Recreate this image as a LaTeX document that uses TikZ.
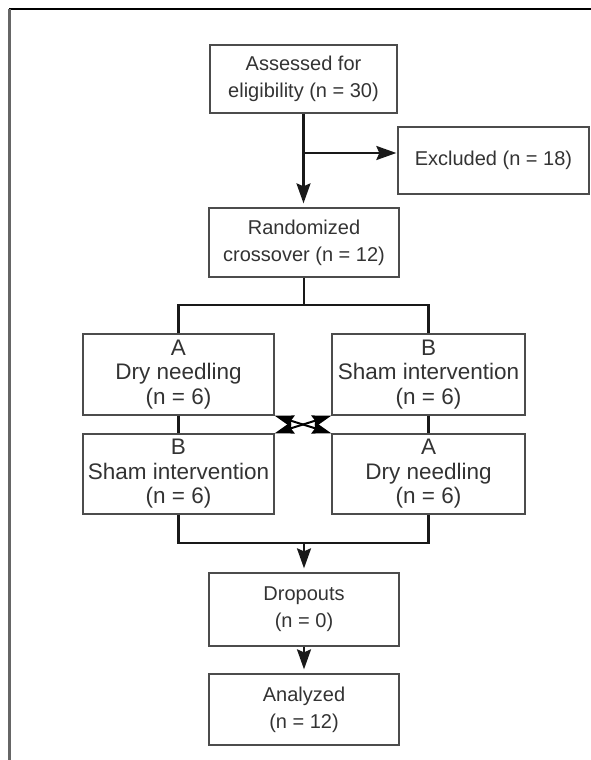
\documentclass[tikz,border=0pt]{standalone}
\usepackage{fontspec}
\setmainfont{Liberation Sans}
\usetikzlibrary{arrows.meta}
\begin{document}
\begin{tikzpicture}[x=1pt,y=-1pt,
  box/.style={draw=black!70,line width=1.3pt,rectangle,align=center,inner sep=0pt,
    text=black!80,font=\fontsize{20}{27}\selectfont},
  xbox/.style={box,font=\fontsize{22.5}{24.5}\selectfont},
  conn/.style={line width=2.4pt,black!90},
  arr/.style={conn,-{Stealth[length=20pt,width=14pt,inset=3pt]}},
  xarr/.style={line width=2pt,black,{Stealth[length=19pt,width=12pt,inset=2pt]}-{Stealth[length=19pt,width=12pt,inset=2pt]}}
]
\useasboundingbox (0,0) rectangle (591,760);
% frame
\draw[line width=2pt,black] (9,9.5) -- (591,9.5);
\draw[line width=2.6pt,black!60] (9.5,9) -- (9.5,760);

\node[box,minimum width=187pt,minimum height=68pt] (box1) at (303.5,79) {Assessed for\\eligibility (n = 30)};
\node[box,minimum width=191pt,minimum height=67pt] (excl) at (493.5,160.5) {Excluded (n = 18)};
\node[box,minimum width=190pt,minimum height=69pt] (rand) at (304,242.5) {Randomized\\crossover (n = 12)};
\node[xbox,minimum width=191pt,minimum height=81pt] (a1) at (178.5,374.5) {A\\Dry needling\\(n = 6)};
\node[xbox,minimum width=193pt,minimum height=81pt] (b1) at (428.5,374.5) {B\\Sham intervention\\(n = 6)};
\node[xbox,minimum width=191pt,minimum height=80pt] (b2) at (178.5,474) {B\\Sham intervention\\(n = 6)};
\node[xbox,minimum width=193pt,minimum height=80pt] (a2) at (428.5,474) {A\\Dry needling\\(n = 6)};
\node[box,minimum width=190pt,minimum height=73pt] (drop) at (304,609.5) {Dropouts\\(n = 0)};
\node[box,minimum width=190pt,minimum height=71pt] (anal) at (304,709.5) {Analyzed\\(n = 12)};

\coordinate (br) at (303.5,153);
\coordinate (split) at (304,305);
\coordinate (join) at (304,543);

\draw[arr,shorten >=4pt] (box1.south) -- (box1.south |- rand.north);
\draw[arr,shorten >=1pt] (br) -- (br -| excl.west);
\draw[conn] (rand.south) -- (split);
\draw[conn] (a1.north) -- (a1.north |- split) -- (b1.north |- split) -- (b1.north);
\draw[conn] (a1.south) -- (b2.north);
\draw[conn] (b1.south) -- (a2.north);
\draw[conn] (b2.south) -- (b2.south |- join) -- (a2.south |- join) -- (a2.south);
\draw[arr,shorten >=4pt] (join) -- (drop.north);
\draw[arr,shorten >=4pt] (drop.south) -- (anal.north);
\draw[xarr] (a1.south east) -- (a2.north west);
\draw[xarr] (b1.south west) -- (b2.north east);
\end{tikzpicture}
\end{document}
